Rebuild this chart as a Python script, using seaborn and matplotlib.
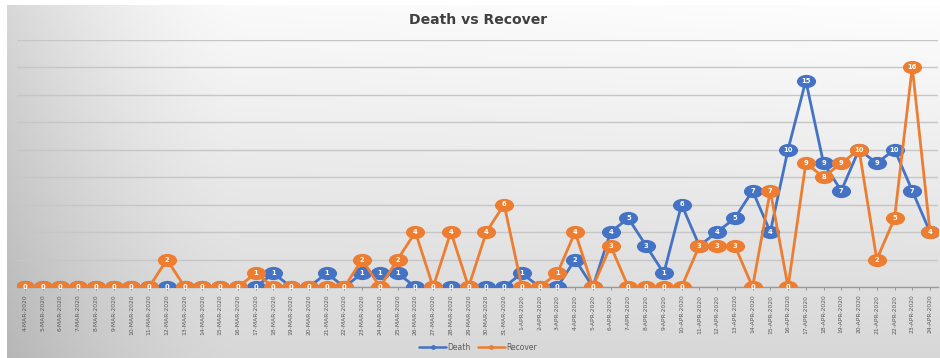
import numpy as np
import pandas as pd
import matplotlib
matplotlib.use("Agg")
import matplotlib.pyplot as plt
from matplotlib.path import Path
from matplotlib.lines import Line2D
import seaborn as sns

dates = [
    "4-MAR-2020", "5-MAR-2020", "6-MAR-2020", "7-MAR-2020", "8-MAR-2020", "9-MAR-2020",
    "10-MAR-2020", "11-MAR-2020", "12-MAR-2020", "13-MAR-2020", "14-MAR-2020", "15-MAR-2020",
    "16-MAR-2020", "17-MAR-2020", "18-MAR-2020", "19-MAR-2020", "20-MAR-2020", "21-MAR-2020",
    "22-MAR-2020", "23-MAR-2020", "24-MAR-2020", "25-MAR-2020", "26-MAR-2020", "27-MAR-2020",
    "28-MAR-2020", "29-MAR-2020", "30-MAR-2020", "31-MAR-2020", "1-APR-2020", "2-APR-2020",
    "3-APR-2020", "4-APR-2020", "5-APR-2020", "6-APR-2020", "7-APR-2020", "8-APR-2020",
    "9-APR-2020", "10-APR-2020", "11-APR-2020", "12-APR-2020", "13-APR-2020", "14-APR-2020",
    "15-APR-2020", "16-APR-2020", "17-APR-2020", "18-APR-2020", "19-APR-2020", "20-APR-2020",
    "21-APR-2020", "22-APR-2020", "23-APR-2020", "24-APR-2020",
]
death = [0, 0, 0, 0, 0, 0, 0, 0, 0, 0, 0, 0, 0, 0, 1, 0, 0, 1, 0, 1,
         1, 1, 0, 0, 0, 0, 0, 0, 1, 0, 0, 2, 0, 4, 5, 3, 1, 6, 3, 4,
         5, 7, 4, 10, 15, 9, 7, 10, 9, 10, 7, 4]
recover = [0, 0, 0, 0, 0, 0, 0, 0, 2, 0, 0, 0, 0, 1, 0, 0, 0, 0, 0, 2,
           0, 2, 4, 0, 4, 0, 4, 6, 0, 0, 1, 4, 0, 3, 0, 0, 0, 0, 3, 3,
           3, 0, 7, 0, 9, 8, 9, 10, 2, 5, 16, 4]
series_names = ["Death", "Recover"]
colors = {"Death": "#4472C4", "Recover": "#ED7D31"}

sns.set_theme(style="white")
plt.rcParams["font.family"] = ["DejaVu Sans"]

W, H = 940, 358
fig = plt.figure(figsize=(W / 100, H / 100), dpi=100)
fig.patch.set_facecolor("white")

# gradient background (white border at left and top)
bg = fig.add_axes([7 / W, 0, 1 - 7 / W, 1 - 5 / H], zorder=-10)
yy, xx = np.mgrid[0:1:200j, 0:1:400j]
g = 0.975 - 0.13 * yy - 0.13 * np.clip(1 - xx / 0.25, 0, 1) ** 1.5 + 0.02 * xx * (1 - yy)
g = np.clip(g, 0, 1)
bg.imshow(np.dstack([g, g, g]), aspect="auto", extent=[0, 1, 0, 1], origin="upper")
bg.axis("off")

ax = fig.add_axes([17 / W, 1 - 287 / H, 921 / W, (287 - 39.5) / H])
ax.set_facecolor("none")

x = np.arange(len(dates))
df = pd.DataFrame({
    "x": np.concatenate([x, x]),
    "value": death + recover,
    "series": ["Death"] * len(x) + ["Recover"] * len(x),
})

circ = Path.unit_circle()
ell = Path(circ.vertices * np.array([1.45, 1.0]), circ.codes)

for k, name in enumerate(series_names):
    sub = df[df["series"] == name]
    sns.lineplot(data=sub, x="x", y="value", color=colors[name], ax=ax,
                 linewidth=2.0, marker=ell, markersize=13.8,
                 markeredgewidth=0, markerfacecolor=colors[name],
                 zorder=3 + 2 * k, legend=False)
    for xi, v in zip(sub["x"], sub["value"]):
        ax.text(xi, v, str(v), ha="center", va="center", fontsize=4.9,
                fontweight="bold", color="white", zorder=4 + 2 * k)

ax.set_xlim(-0.45, len(dates) - 0.55)
ax.set_ylim(0, 18)
ax.set_yticks(np.arange(0, 19, 2))
ax.set_yticklabels([])
ax.tick_params(axis="y", length=0)
ax.grid(axis="y", color="#c6c6c6", linewidth=1.0)
ax.set_axisbelow(True)
ax.set_xticks(x)
ax.set_xticklabels(dates, rotation=90, fontsize=4.3, color="#595959")
ax.tick_params(axis="x", length=2.5, width=0.6, color="#8a8a8a", pad=3, direction="out", bottom=True)
for s in ["top", "right", "left"]:
    ax.spines[s].set_visible(False)
ax.spines["bottom"].set_color("#9a9a9a")
ax.spines["bottom"].set_linewidth(1.0)
ax.set_xlabel("")
ax.set_ylabel("")

fig.text(478 / W, 1 - 20 / H, "Death vs Recover", ha="center", va="center",
         fontsize=10.1, fontweight="bold", color="#404040")

handles = [Line2D([0], [0], color=colors[n], linewidth=1.8, marker="o", markersize=2.5)
           for n in series_names]
fig.legend(handles, series_names, loc="center", bbox_to_anchor=(478 / W, 1 - 347 / H),
           ncol=2, frameon=False, fontsize=5.5, handlelength=3.5, columnspacing=1.0,
           handletextpad=0.15, labelcolor="#595959")

fig.savefig("out.png", dpi=100)
